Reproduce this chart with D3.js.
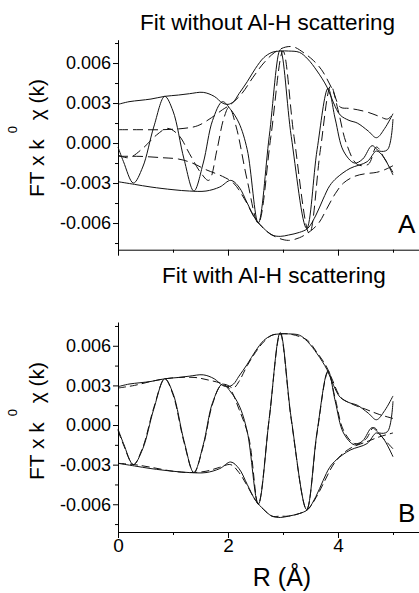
<!DOCTYPE html>
<html>
<head>
<meta charset="utf-8">
<script src="https://cdn.jsdelivr.net/npm/d3@7"></script>
<style>
  body { margin: 0; background: #fff; }
  text { font-family: "Liberation Sans", Arial, sans-serif; fill: #000; }
</style>
</head>
<body>
<div id="vis"></div>
<script>
// experimental curves (solid, same in both panels): [R, value]
var magUp = [[0,0.0029],[0.2,0.0031],[0.4,0.0032],[0.6,0.0033],[0.85,0.0035],[1.1,0.0036],[1.3,0.0037],[1.55,0.0038],[1.75,0.0035],[1.9,0.0030],[2.0,0.0029],[2.1,0.0031],[2.2,0.0037],[2.35,0.0046],[2.5,0.0056],[2.65,0.0064],[2.8,0.0068],[2.95,0.0069],[3.1,0.0069],[3.3,0.0068],[3.45,0.0063],[3.62,0.0054],[3.8,0.0042],[3.92,0.0030],[4.04,0.0021],[4.2,0.0017],[4.35,0.0015],[4.55,0.0009],[4.7,0.0004],[4.85,0.0011],[5.0,0.0022]];
var magDn = [[0,-0.0029],[0.3,-0.0031],[0.6,-0.0033],[1.0,-0.0035],[1.3,-0.0036],[1.6,-0.0036],[1.85,-0.0033],[2.05,-0.0028],[2.2,-0.0033],[2.35,-0.0045],[2.5,-0.0057],[2.65,-0.0064],[2.8,-0.0069],[2.95,-0.0070],[3.1,-0.0069],[3.3,-0.0067],[3.45,-0.0064],[3.6,-0.0054],[3.73,-0.0042],[3.85,-0.0032],[3.98,-0.0026],[4.22,-0.0019],[4.53,-0.0014],[4.7,-0.0006],[4.82,-0.0010],[5.0,-0.0024]];
var imPart = [[0,-0.0003],[0.1,-0.0014],[0.28,-0.0030],[0.45,-0.0018],[0.65,0.0012],[0.85,0.0035],[1.0,0.0024],[1.2,-0.0012],[1.38,-0.0036],[1.55,-0.0015],[1.72,0.0017],[1.9,0.0031],[2.05,0.0025],[2.2,0.0015],[2.35,-0.0005],[2.55,-0.0060],[2.75,0.0005],[2.95,0.0070],[3.15,0.0005],[3.43,-0.0064],[3.62,-0.0005],[3.82,0.0041],[3.95,0.0018],[4.1,-0.0006],[4.3,-0.0015],[4.45,-0.0012],[4.62,-0.0002],[4.75,-0.0006],[4.9,-0.0005],[5.0,0.0018]];

// fit without Al-H (dashed, panel A)
var fitUpA = [[0,0.0010],[0.4,0.0010],[0.8,0.0010],[1.2,0.0011],[1.45,0.0013],[1.7,0.0019],[1.9,0.0025],[2.05,0.0029],[2.25,0.0037],[2.45,0.0049],[2.65,0.0060],[2.85,0.0068],[3.05,0.0072],[3.2,0.0072],[3.4,0.0067],[3.55,0.0062],[3.7,0.0055],[3.9,0.0040],[4.04,0.0027],[4.2,0.0026],[4.35,0.0025],[4.55,0.0023],[4.75,0.0020],[4.9,0.0018],[5.0,0.0022]];
var fitDnA = [[0,-0.0010],[0.4,-0.0010],[0.8,-0.0011],[1.1,-0.0012],[1.35,-0.0015],[1.6,-0.0020],[1.9,-0.0025],[2.1,-0.0030],[2.3,-0.0042],[2.5,-0.0057],[2.7,-0.0066],[2.9,-0.0071],[3.1,-0.0073],[3.3,-0.0071],[3.5,-0.0066],[3.65,-0.0060],[3.8,-0.0049],[3.95,-0.0038],[4.1,-0.0030],[4.3,-0.0025],[4.5,-0.0023],[4.7,-0.0022],[4.85,-0.0020],[5.0,-0.0017]];
var fitImA = [[0,-0.0009],[0.2,-0.0011],[0.45,-0.0004],[0.7,0.0006],[0.9,0.0011],[1.1,0.0006],[1.3,-0.0008],[1.5,-0.0022],[1.65,-0.0028],[1.8,-0.0005],[1.92,0.0018],[2.02,0.0027],[2.15,0.0012],[2.35,-0.0028],[2.55,-0.0060],[2.78,0.0005],[3.0,0.0069],[3.2,0.0005],[3.48,-0.0068],[3.68,-0.0005],[3.87,0.0043],[4.0,0.0025],[4.15,0.0000],[4.35,-0.0016],[4.55,-0.0016],[4.7,-0.0003],[4.85,-0.0012],[5.0,-0.0022]];

// fit with Al-H (dashed, panel B)
var fitUpB = [[0,0.0028],[0.3,0.0030],[0.6,0.0033],[0.85,0.0035],[1.1,0.0036],[1.4,0.0036],[1.65,0.0034],[1.85,0.0032],[2.0,0.0030],[2.1,0.0028],[2.2,0.0033],[2.35,0.0045],[2.5,0.0055],[2.65,0.0063],[2.8,0.0068],[2.95,0.0069],[3.1,0.0069],[3.3,0.0067],[3.45,0.0064],[3.6,0.0056],[3.78,0.0045],[3.9,0.0034],[4.05,0.0021],[4.25,0.0016],[4.5,0.0012],[4.75,0.0008],[5.0,0.0005]];
var fitDnB = [[0,-0.0029],[0.3,-0.0030],[0.6,-0.0032],[1.0,-0.0035],[1.3,-0.0036],[1.6,-0.0035],[1.85,-0.0032],[2.05,-0.0030],[2.2,-0.0036],[2.35,-0.0046],[2.5,-0.0057],[2.65,-0.0064],[2.8,-0.0069],[2.95,-0.0069],[3.1,-0.0069],[3.3,-0.0067],[3.45,-0.0064],[3.6,-0.0055],[3.75,-0.0043],[3.9,-0.0031],[4.05,-0.0023],[4.25,-0.0017],[4.5,-0.0013],[4.75,-0.0009],[5.0,-0.0006]];
var fitImB = [[0,-0.0004],[0.1,-0.0015],[0.28,-0.0030],[0.45,-0.0017],[0.65,0.0013],[0.85,0.0035],[1.0,0.0023],[1.2,-0.0013],[1.38,-0.0036],[1.55,-0.0016],[1.72,0.0016],[1.88,0.0030],[2.02,0.0028],[2.2,0.0012],[2.38,-0.0010],[2.55,-0.0060],[2.75,0.0005],[2.95,0.0069],[3.15,0.0004],[3.43,-0.0064],[3.62,-0.0006],[3.82,0.0040],[3.95,0.0020],[4.1,-0.0004],[4.3,-0.0014],[4.5,-0.0011],[4.65,-0.0002],[4.8,-0.0009],[5.0,-0.0018]];

var yMajor = [-0.006, -0.003, 0, 0.003, 0.006];
var yMinor = [-0.0075, -0.0045, -0.0015, 0.0015, 0.0045, 0.0075];
var xMajor = [0, 2, 4];
var xMinor = [1, 3, 5];

var width = 419, height = 593;

var svg = d3.select("#vis").append("svg")
  .attr("width", width)
  .attr("height", height);

var x = d3.scaleLinear().domain([0, 5.473]).range([118, 419]);

function drawPanel(p) {
  var y = d3.scaleLinear().domain(p.ydom).range(p.yrange);
  var g = svg.append("g");

  var line = d3.line()
    .x(function(d) { return x(d[0]); })
    .y(function(d) { return y(d[1]); })
    .curve(d3.curveCatmullRom.alpha(0.5));

  // data (solid)
  [magUp, magDn, imPart].forEach(function(s) {
    g.append("path").datum(s)
      .attr("d", line)
      .attr("fill", "none")
      .attr("stroke", "#111")
      .attr("stroke-width", 1);
  });
  // fit (dashed)
  p.fits.forEach(function(s) {
    g.append("path").datum(s)
      .attr("d", line)
      .attr("fill", "none")
      .attr("stroke", "#111")
      .attr("stroke-width", 1)
      .attr("stroke-dasharray", p.dash);
  });

  // y axis
  var ya = g.append("g").attr("transform", "translate(118,0)")
    .call(d3.axisLeft(y).tickValues(yMajor).tickSize(5).tickSizeOuter(0).tickPadding(2)
      .tickFormat(function(d) { return d.toFixed(3); }));
  ya.selectAll("text").style("font-size", "18px").attr("fill", "#000");
  g.append("g").attr("transform", "translate(118,0)")
    .call(d3.axisLeft(y).tickValues(yMinor).tickSize(3).tickFormat(""))
    .select(".domain").remove();

  // x axis
  var xa = g.append("g").attr("transform", "translate(0," + p.yrange[0] + ")")
    .call(d3.axisBottom(x).tickValues(xMajor).tickSize(6).tickSizeOuter(0).tickPadding(1)
      .tickFormat(p.xlabels ? d3.format("d") : ""));
  xa.selectAll("text").style("font-size", "19px").attr("fill", "#000");
  g.append("g").attr("transform", "translate(0," + p.yrange[0] + ")")
    .call(d3.axisBottom(x).tickValues(xMinor).tickSize(3).tickFormat(""))
    .select(".domain").remove();

  g.selectAll(".domain, .tick line").attr("stroke", "#000");

  // title
  g.append("text").attr("x", p.titleX).attr("y", p.titleY)
    .style("font-size", "22.5px").text(p.title);

  // panel letter
  g.append("text").attr("x", 398).attr("y", p.letterY)
    .style("font-size", "26px").text(p.letter);

  // y label
  var yl = g.append("text")
    .attr("transform", "translate(44," + p.labelY + ") rotate(-90)")
    .attr("text-anchor", "middle")
    .style("font-size", "21px");
  yl.append("tspan").text("FT x k ");
  yl.append("tspan").attr("dy", -27).style("font-size", "13px").text("0");
  yl.append("tspan").attr("dy", 27).text(" \u03C7 (k)");
}

drawPanel({
  ydom: [-0.008, 0.00775], yrange: [249.7, 39.7],
  fits: [fitUpA, fitDnA, fitImA], dash: "10,5",
  xlabels: false,
  title: "Fit without Al-H scattering", titleX: 140, titleY: 30,
  letter: "A", letterY: 233, labelY: 138
});

drawPanel({
  ydom: [-0.0081, 0.0078], yrange: [532, 322],
  fits: [fitUpB, fitDnB, fitImB], dash: "8,4",
  xlabels: true,
  title: "Fit with Al-H scattering", titleX: 162, titleY: 283,
  letter: "B", letterY: 522, labelY: 421
});

// x axis title
svg.append("text").attr("x", 282).attr("y", 586)
  .attr("text-anchor", "middle")
  .style("font-size", "25px")
  .text("R (\u00C5)");
</script>
</body>
</html>
